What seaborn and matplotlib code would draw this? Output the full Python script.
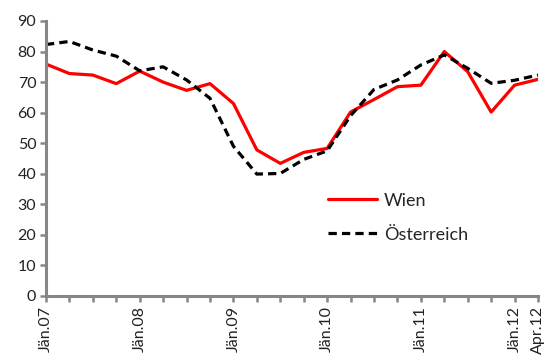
import matplotlib
matplotlib.use("Agg")
import matplotlib.pyplot as plt
import seaborn as sns
import pandas as pd

# Quarterly values, Q1 2007 to Q2 2012
quarters = ["Jän.07", "Apr.07", "Jul.07", "Okt.07",
            "Jän.08", "Apr.08", "Jul.08", "Okt.08",
            "Jän.09", "Apr.09", "Jul.09", "Okt.09",
            "Jän.10", "Apr.10", "Jul.10", "Okt.10",
            "Jän.11", "Apr.11", "Jul.11", "Okt.11",
            "Jän.12", "Apr.12"]
wien = [75.9, 72.8, 72.3, 69.5, 73.6, 70.0, 67.3, 69.5,
        63.0, 47.8, 43.4, 47.0, 48.3, 60.2, 64.3, 68.5,
        69.0, 80.0, 73.4, 60.2, 69.0, 70.9]
oesterreich = [82.3, 83.3, 80.5, 78.5, 73.7, 75.0, 70.7, 64.7,
               49.0, 39.9, 40.1, 44.7, 47.5, 59.0, 67.6, 70.7,
               75.6, 78.9, 74.5, 69.6, 70.6, 72.3]
labelled = ["Jän.07", "Jän.08", "Jän.09", "Jän.10", "Jän.11", "Jän.12", "Apr.12"]

sns.set_theme(style="white")
plt.rcParams["font.family"] = ["Lato", "DejaVu Sans"]

df = pd.DataFrame({"pos": range(len(quarters)), "Wien": wien, "Österreich": oesterreich})

fig = plt.figure(figsize=(5.48, 3.6), dpi=100)
ax = fig.add_axes([0.0839, 0.1778, 0.8979, 0.7639])

sns.lineplot(data=df, x="pos", y="Wien", ax=ax, color="#FF0000", lw=2.3, label="Wien")
sns.lineplot(data=df, x="pos", y="Österreich", ax=ax, color="black", lw=2.3,
             linestyle=(0, (2.6, 1.6)), label="Österreich")

ax.set_xlim(0, len(quarters) - 1)
ax.set_ylim(0, 90)
ax.set_yticks(range(0, 91, 10))
ax.set_xticks(range(len(quarters)))
ax.set_xticklabels([q if q in labelled else "" for q in quarters], rotation=90)
ax.set_xlabel("")
ax.set_ylabel("")

grey = "#868686"
for side in ["top", "right"]:
    ax.spines[side].set_visible(False)
for side in ["left", "bottom"]:
    ax.spines[side].set_color(grey)
    ax.spines[side].set_linewidth(2.2)
ax.tick_params(axis="both", which="both", direction="out", length=4, width=1.8,
               color=grey, labelsize=11.5, labelcolor="#222222", pad=3)
ax.tick_params(axis="x", bottom=True)
ax.tick_params(axis="y", left=True)

leg = ax.legend(loc="upper left", bbox_to_anchor=(0.54, 0.435), frameon=False,
                fontsize=13, handlelength=2.7, handletextpad=0.4, labelspacing=1.0)

fig.savefig("out.png", dpi=100)
